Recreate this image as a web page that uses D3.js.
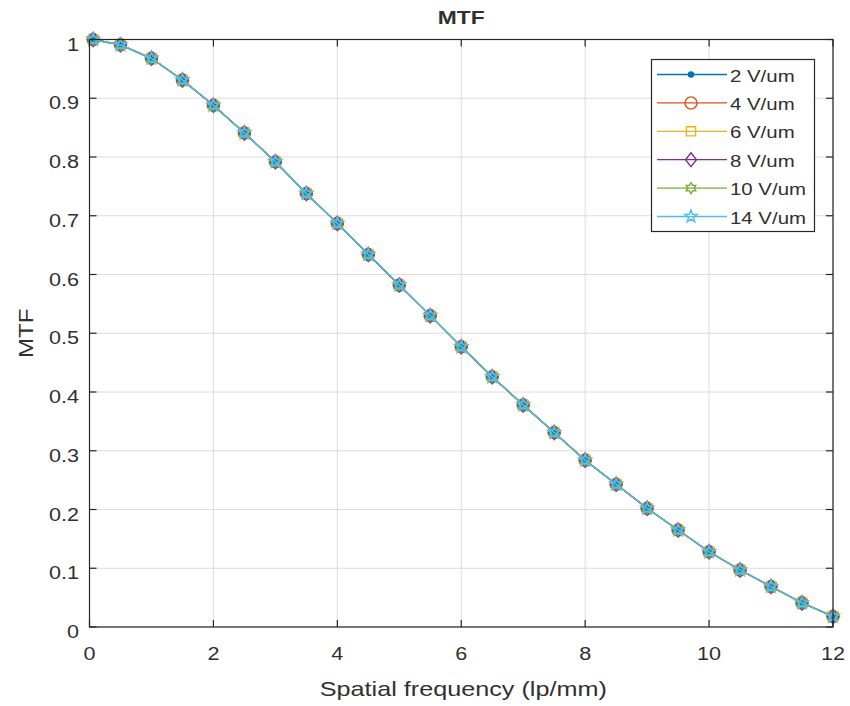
<!DOCTYPE html>
<html>
<head>
<meta charset="utf-8">
<script src="https://cdn.jsdelivr.net/npm/d3@7"></script>
<style>
  body { margin: 0; background: #fff; }
  text { font-family: "Liberation Sans", Arial, sans-serif; fill: #303030; }
</style>
</head>
<body>
<svg id="chart" width="850" height="706"></svg>
<script>
// spatial frequency (lp/mm) of every sample
const freq = [0.06, 0.5, 1, 1.5, 2, 2.5, 3, 3.5, 4, 4.5, 5, 5.5, 6, 6.5, 7, 7.5, 8, 8.5, 9, 9.5, 10, 10.5, 11, 11.5, 12];
// MTF values (all six curves sit on top of each other)
const mtf = [1.0, 0.991, 0.968, 0.931, 0.888, 0.841, 0.792, 0.738, 0.687, 0.634, 0.582, 0.530, 0.477, 0.426, 0.378, 0.331, 0.284, 0.243, 0.202, 0.165, 0.128, 0.097, 0.069, 0.041, 0.018];

const seriesNames = ['2 V/um', '4 V/um', '6 V/um', '8 V/um', '10 V/um', '14 V/um'];
const seriesValues = [mtf, mtf, mtf, mtf, mtf, mtf];
const seriesColors = ['#0072BD', '#D95319', '#EDB120', '#7E2F8E', '#77AC30', '#4DBEEE'];
const seriesMarkers = ['point', 'circle', 'square', 'diamond', 'hexagram', 'pentagram'];

const xTicks = [0, 2, 4, 6, 8, 10, 12];
const yTicks = [0, 0.1, 0.2, 0.3, 0.4, 0.5, 0.6, 0.7, 0.8, 0.9, 1];
const yTickLabels = ['0', '0.1', '0.2', '0.3', '0.4', '0.5', '0.6', '0.7', '0.8', '0.9', '1'];

// figure layout
const margin = { top: 39.5, right: 17, bottom: 79, left: 89.5 },
      width = 850 - margin.left - margin.right,
      height = 706 - margin.top - margin.bottom;

const axisColor = '#262626';
const gridColor = '#dcdcdc';

const x = d3.scaleLinear().domain([0, 12]).range([0, width]);
const y = d3.scaleLinear().domain([0, 1]).range([height, 0]);

const svg = d3.select('#chart');
const g = svg.append('g')
    .attr('transform', `translate(${margin.left},${margin.top})`);

// grid
g.append('g')
    .selectAll('line')
    .data(xTicks)
    .enter()
    .append('line')
    .attr('x1', d => x(d)).attr('x2', d => x(d))
    .attr('y1', 0).attr('y2', height)
    .attr('stroke', gridColor);

g.append('g')
    .selectAll('line')
    .data(yTicks)
    .enter()
    .append('line')
    .attr('x1', 0).attr('x2', width)
    .attr('y1', d => y(d)).attr('y2', d => y(d))
    .attr('stroke', gridColor);

// marker shapes (MATLAB style)
function starPath(cx, cy, points, rOuter, rInner) {
    let p = [];
    for (let i = 0; i < points * 2; i++) {
        const r = i % 2 === 0 ? rOuter : rInner;
        const a = -Math.PI / 2 + i * Math.PI / points;
        p.push([cx + r * Math.cos(a), cy + r * Math.sin(a)]);
    }
    return 'M' + p.map(d => d.join(',')).join('L') + 'Z';
}

function markerPath(type, cx, cy) {
    switch (type) {
        case 'point':
            return `M${cx - 2.5},${cy}a2.5,2.5 0 1,0 5,0a2.5,2.5 0 1,0 -5,0`;
        case 'circle':
            return `M${cx - 6},${cy}a6,6 0 1,0 12,0a6,6 0 1,0 -12,0`;
        case 'square':
            return `M${cx - 4.6},${cy - 4.6}h9.2v9.2h-9.2Z`;
        case 'diamond':
            return `M${cx},${cy - 7}L${cx + 5.5},${cy}L${cx},${cy + 7}L${cx - 5.5},${cy}Z`;
        case 'hexagram':
            return starPath(cx, cy, 6, 5.5, 3.2);
        case 'pentagram':
            return starPath(cx, cy, 5, 6.5, 2.6);
    }
}

const line = d3.line()
    .x(d => x(d[0]))
    .y(d => y(d[1]));

// series: line then markers, in plotting order
seriesNames.forEach((name, i) => {
    const pts = freq.map((f, j) => [f, seriesValues[i][j]]);
    const sg = g.append('g');

    sg.append('path')
        .datum(pts)
        .attr('d', line)
        .attr('fill', 'none')
        .attr('stroke', seriesColors[i])
        .attr('stroke-width', 1.3);

    sg.selectAll('path.m')
        .data(pts)
        .enter()
        .append('path')
        .attr('class', 'm')
        .attr('d', d => markerPath(seriesMarkers[i], x(d[0]), y(d[1])))
        .attr('fill', seriesMarkers[i] === 'point' ? seriesColors[i] : 'none')
        .attr('stroke', seriesColors[i])
        .attr('stroke-width', 1.6);
});

// axes box with inward ticks on all four sides
const tickLen = 7;
const axes = g.append('g').attr('stroke', axisColor).attr('stroke-width', 1.2);

axes.append('rect')
    .attr('x', 0).attr('y', 0)
    .attr('width', width).attr('height', height)
    .attr('fill', 'none');

xTicks.forEach(t => {
    axes.append('line').attr('x1', x(t)).attr('x2', x(t)).attr('y1', height).attr('y2', height - tickLen);
    axes.append('line').attr('x1', x(t)).attr('x2', x(t)).attr('y1', 0).attr('y2', tickLen);
});
yTicks.forEach(t => {
    axes.append('line').attr('x1', 0).attr('x2', tickLen).attr('y1', y(t)).attr('y2', y(t));
    axes.append('line').attr('x1', width).attr('x2', width - tickLen).attr('y1', y(t)).attr('y2', y(t));
});

// tick labels
g.append('g')
    .selectAll('text')
    .data(xTicks)
    .enter()
    .append('text')
    .attr('x', d => x(d))
    .attr('y', height + 33)
    .attr('text-anchor', 'middle')
    .style('font-size', '18px')
    .text(d => d);

g.append('g')
    .selectAll('text')
    .data(yTicks)
    .enter()
    .append('text')
    .attr('x', -10.5)
    .attr('y', d => y(d) + 11)
    .attr('text-anchor', 'end')
    .style('font-size', '18px')
    .text((d, i) => yTickLabels[i]);

// title and axis labels
svg.append('text')
    .attr('x', margin.left + width / 2)
    .attr('y', 23.5)
    .attr('text-anchor', 'middle')
    .style('font-size', '19px')
    .style('font-weight', 'bold')
    .text('MTF');

svg.append('text')
    .attr('x', margin.left + width / 2 + 2)
    .attr('y', 696)
    .attr('text-anchor', 'middle')
    .style('font-size', '21px')
    .text('Spatial frequency (lp/mm)');

svg.append('text')
    .attr('transform', `translate(33,${margin.top + height / 2}) rotate(-90)`)
    .attr('text-anchor', 'middle')
    .style('font-size', '20px')
    .text('MTF');

// legend
const legend = svg.append('g');
legend.append('rect')
    .attr('x', 651.5).attr('y', 59.5)
    .attr('width', 163).attr('height', 172)
    .attr('fill', '#fff')
    .attr('stroke', axisColor)
    .attr('stroke-width', 1.2);

seriesNames.forEach((name, i) => {
    const ly = 74.5 + i * 28.4;
    legend.append('line')
        .attr('x1', 657).attr('x2', 727)
        .attr('y1', ly).attr('y2', ly)
        .attr('stroke', seriesColors[i])
        .attr('stroke-width', 1.3);
    legend.append('path')
        .attr('d', markerPath(seriesMarkers[i], 691, ly))
        .attr('fill', seriesMarkers[i] === 'point' ? seriesColors[i] : 'none')
        .attr('stroke', seriesColors[i])
        .attr('stroke-width', 1.4);
    legend.append('text')
        .attr('x', 730)
        .attr('y', ly + 7)
        .style('font-size', '17px')
        .text(name);
});

// the reference text is drawn a bit wider than Arial, stretch it
svg.selectAll('text').each(function() {
    const w = this.getComputedTextLength();
    d3.select(this)
        .attr('textLength', w * 1.2)
        .attr('lengthAdjust', 'spacingAndGlyphs');
});
</script>
</body>
</html>
